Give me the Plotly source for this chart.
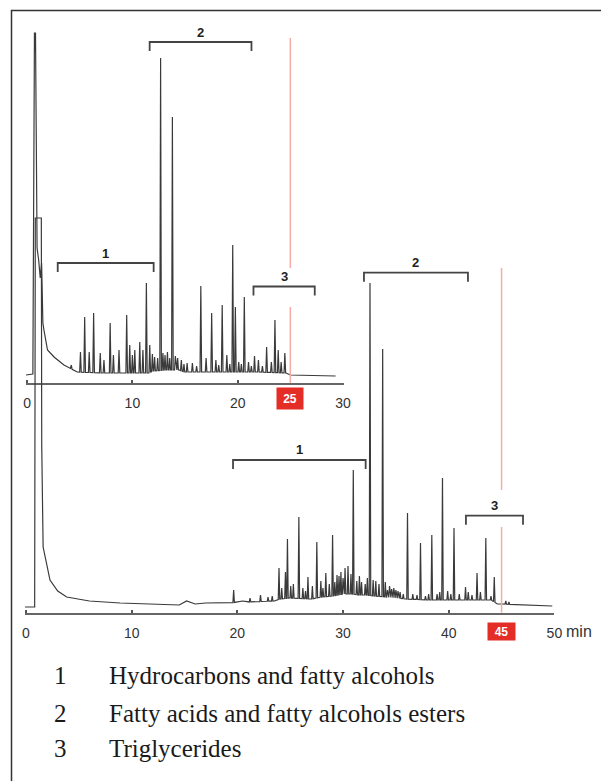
import numpy as np
import plotly.graph_objects as go

# ---------------- data ----------------
# Top chromatogram (30 min run); signal in arbitrary units
top_base_times = [-0.1, 0.55, 0.70, 0.80, 0.95, 1.10, 1.25, 1.38, 1.45, 1.50, 1.60, 1.94, 2.56, 3.5,
                  4.76, 6.95, 11.64, 11.9, 13.05, 14.46, 14.9, 16.3, 22.0, 24.6, 25.0, 29.3]
top_base_levels = [3, 4, 345, 345, 130, 118, 100, 115, 80, 55, 48, 28, 21, 13,
                   6, 5, 5, 7, 8, 8, 6, 6, 6, 5, 3, 2]
top_peak_times = [4.2, 5.07, 5.47, 5.9, 6.32, 6.95, 7.3, 7.89, 8.2, 8.73, 9.46, 9.75, 10.0, 10.23,
                  10.7, 11.0, 11.33, 11.65, 11.9, 12.11, 12.4, 12.68, 12.9, 13.1, 13.33, 13.55,
                  13.8, 14.08, 14.3, 14.65, 14.9, 15.2, 15.7, 16.1, 16.5, 17.0, 17.53, 17.93,
                  18.2, 18.53, 18.97, 19.25, 19.53, 19.78, 20.1, 20.35, 20.63, 21.03, 21.3,
                  21.6, 21.97, 22.35, 22.75, 23.2, 23.54, 23.85, 24.13, 24.48]
top_peak_heights = [13, 26, 61, 26, 65, 25, 18, 55, 23, 28, 63, 33, 23, 28,
                    36, 28, 95, 33, 24, 21, 20, 320, 25, 23, 26, 20,
                    261, 22, 20, 18, 14, 15, 15, 12, 92, 20, 65, 18,
                    13, 73, 23, 14, 133, 71, 16, 14, 81, 16, 12,
                    22, 18, 12, 31, 16, 58, 28, 16, 25]

# Bottom chromatogram (50 min run)
bot_base_times = [-0.1, 0.82, 0.88, 1.45, 1.49, 1.62, 2.27, 3.0, 3.85, 6.0, 8.9, 12.0, 14.5, 15.2,
                  16.0, 17.0, 19.4, 20.5, 21.0, 23.5, 24.0, 25.0, 27.0, 28.0, 29.0, 30.0, 30.8,
                  31.5, 32.2, 33.0, 34.0, 35.0, 36.0, 38.0, 40.0, 42.0, 44.0, 44.6, 45.0, 49.8]
bot_base_levels = [-1, -1, 388, 388, 160, 59, 26, 15, 9, 5, 3, 2, 1, 5,
                   2, 3, 3, 5, 4, 5, 7, 8, 7, 9, 10, 12, 12,
                   11, 11, 10, 9, 8, 7, 6, 6, 6, 6, 2, 2, 0]
bot_peak_times = [19.65, 21.2, 22.19, 22.9, 23.3, 23.94, 24.2, 24.55, 24.74, 25.05, 25.3, 25.82,
                  26.2, 26.45, 26.68, 27.1, 27.52, 27.9, 28.1, 28.37, 28.7, 29.01, 29.22, 29.43,
                  29.62, 29.8, 30.0, 30.19, 30.47, 30.75, 30.97, 31.3, 31.55, 31.75, 32.1,
                  32.3, 32.55, 32.85, 33.1, 33.4, 33.75, 34.0, 34.2, 34.4, 34.6, 34.8, 35.0,
                  35.2, 35.4, 35.7, 36.1, 36.6, 37.0, 37.33, 37.8, 38.1, 38.4, 38.9, 39.15,
                  39.41, 39.9, 40.2, 40.5, 41.0, 41.59, 41.85, 42.2, 42.68, 43.0, 43.51,
                  44.0, 44.31, 45.4, 45.7]
bot_peak_heights = [16, 8, 11, 9, 10, 38, 18, 34, 67, 20, 22, 89,
                    18, 15, 29, 20, 64, 25, 18, 33, 22, 71, 24, 31,
                    30, 34, 28, 38, 40, 32, 136, 25, 30, 24, 22,
                    28, 323, 26, 25, 22, 257, 24, 16, 20, 17, 18, 16,
                    15, 14, 12, 93, 12, 11, 63, 10, 12, 71, 12, 14,
                    128, 15, 12, 78, 12, 19, 14, 11, 33, 14, 68,
                    10, 29, 5, 4]

top_ticks = [0, 10, 20, 30]
bot_ticks = [0, 10, 20, 30, 40, 50]
marker_times = [25, 45]
marker_tops = [340, 338]
marker_gaps = [(71, 110), (79, 116)]

group_labels = ["1", "2", "3"]
top_group_start = [2.91, 11.64, 21.5]
top_group_end = [12.02, 21.31, 27.32]
top_group_level = [115, 336, 91.5]
bot_group_start = [19.59, 31.98, 41.63]
bot_group_end = [32.14, 41.82, 47.03]
bot_group_level = [146, 333.3, 90.3]

legend_numbers = ["1", "2", "3"]
legend_texts = ["Hydrocarbons and fatty alcohols",
                "Fatty acids and fatty alcohols esters",
                "Triglycerides"]

# ---------------- helpers ----------------
W, H = 601, 781


def px_x(p):
    return p / W


def px_y(p):
    return 1 - p / H


def build(bt, bl, pt, ph, w):
    bt = np.asarray(bt, float)
    bl = np.asarray(bl, float)
    keep = np.ones(len(bt), bool)
    for t in pt:
        keep &= ~((bt > t - w) & (bt < t + w))
    pts = [(t, l) for t, l, k in zip(bt, bl, keep) if k]
    for t, h in zip(pt, ph):
        pts += [(t - w, float(np.interp(t - w, bt, bl))), (t, h),
                (t + w, float(np.interp(t + w, bt, bl)))]
    pts.sort(key=lambda p: p[0])
    xs, ys = zip(*pts)
    return list(xs), list(ys)


TRACE = "#3a3a3a"
RED_LINE = "#f5aca6"
RED_BOX = "#e52d27"
BRACKET = "#444444"

fig = go.Figure()

tx, ty = build(top_base_times, top_base_levels, top_peak_times, top_peak_heights, 0.075)
bx, by = build(bot_base_times, bot_base_levels, bot_peak_times, bot_peak_heights, 0.07)

fig.add_trace(go.Scatter(x=tx, y=ty, mode="lines", line=dict(color=TRACE, width=1.2),
                         xaxis="x", yaxis="y", hoverinfo="skip"))
fig.add_trace(go.Scatter(x=bx, y=by, mode="lines", line=dict(color=TRACE, width=1.2),
                         xaxis="x2", yaxis="y2", hoverinfo="skip"))

top_yr = [-5, 353]
bot_yr = [-6.7, 406]

# red end markers
for i, (xa, ya, yr) in enumerate([("x", "y", top_yr), ("x2", "y2", bot_yr)]):
    t = marker_times[i]
    g0, g1 = marker_gaps[i]
    fig.add_trace(go.Scatter(x=[t, t, None, t, t], y=[marker_tops[i], g1, None, g0, yr[0]],
                             mode="lines", line=dict(color=RED_LINE, width=1.5),
                             xaxis=xa, yaxis=ya, hoverinfo="skip"))

annotations = []
# brackets
for xa, ya, st, en, lv in [("x", "y", top_group_start, top_group_end, top_group_level),
                           ("x2", "y2", bot_group_start, bot_group_end, bot_group_level)]:
    for lab, s, e, l in zip(group_labels, st, en, lv):
        fig.add_trace(go.Scatter(x=[s, s, e, e], y=[l - 9, l, l, l - 9], mode="lines",
                                 line=dict(color=BRACKET, width=1.8),
                                 xaxis=xa, yaxis=ya, hoverinfo="skip"))
        annotations.append(dict(x=(s + e) / 2, y=l, xref=xa, yref=ya, text="<b>%s</b>" % lab,
                                showarrow=False, yanchor="middle", yshift=10,
                                font=dict(family="Liberation Sans", size=13, color="#222")))

# red boxes
annotations.append(dict(x=marker_times[0], y=top_yr[0], xref="x", yref="y",
                        text="<b>%d</b>" % marker_times[0], showarrow=False,
                        bgcolor=RED_BOX, width=26, height=21, borderpad=0,
                        yanchor="top", yshift=-4,
                        font=dict(family="Liberation Sans", size=12, color="white")))
annotations.append(dict(x=marker_times[1], y=bot_yr[0], xref="x2", yref="y2",
                        text="<b>%d</b>" % marker_times[1], showarrow=False,
                        bgcolor=RED_BOX, width=27, height=17, borderpad=0,
                        yanchor="top", yshift=-9,
                        font=dict(family="Liberation Sans", size=12, color="white")))
annotations.append(dict(x=bot_ticks[-1], y=bot_yr[0], xref="x2", yref="y2", text="min",
                        showarrow=False, xanchor="left", xshift=10, yanchor="middle",
                        yshift=-18.5, font=dict(family="Liberation Sans", size=16, color="#333")))

# legend text
for i, (n, t) in enumerate(zip(legend_numbers, legend_texts)):
    yc = [675, 713, 748][i]
    annotations.append(dict(x=px_x(61), y=px_y(yc), xref="paper", yref="paper", text=n,
                            showarrow=False, xanchor="center", yanchor="middle",
                            font=dict(family="Liberation Serif", size=25, color="#1a1a1a")))
    annotations.append(dict(x=px_x(107), y=px_y(yc), xref="paper", yref="paper", text=t,
                            showarrow=False, xanchor="left", yanchor="middle",
                            font=dict(family="Liberation Serif", size=25, color="#1a1a1a")))

axis_common = dict(showgrid=False, zeroline=False, showline=True, linecolor="#666",
                   linewidth=2, ticks="inside", ticklen=3, tickwidth=1.5, tickcolor="#555",
                   tickfont=dict(family="Liberation Sans", size=14, color="#333"),
                   ticklabelstandoff=6, tickmode="array", automargin=False)

fig.update_layout(
    template="none", autosize=False,
    width=W, height=H, margin=dict(l=0, r=0, t=0, b=0, pad=0),
    paper_bgcolor="white", plot_bgcolor="rgba(0,0,0,0)", showlegend=False,
    xaxis=dict(domain=[px_x(25.5), px_x(343.5)], range=[-0.15, 30.05], anchor="y",
               tickvals=top_ticks, ticktext=[str(v) for v in top_ticks], **axis_common),
    yaxis=dict(domain=[px_y(383), px_y(25)], range=top_yr, visible=False, anchor="x",
               automargin=False),
    xaxis2=dict(domain=[px_x(24.94), px_x(554.4)], range=[-0.1, 50], anchor="y2",
                tickvals=bot_ticks, ticktext=[str(v) for v in bot_ticks], **axis_common),
    yaxis2=dict(domain=[px_y(612.7), px_y(200)], range=bot_yr, visible=False, anchor="x2",
                automargin=False),
    annotations=annotations,
    shapes=[dict(type="rect", xref="paper", yref="paper", x0=px_x(11.5), x1=1.05,
                 y0=-0.05, y1=px_y(10.5), line=dict(color="#333", width=1.5))],
)

fig.write_html("out.html", config={"displayModeBar": False, "responsive": False},
               post_script="document.body.style.margin='0';"
               "document.body.style.overflow='hidden';"
               "Plotly.relayout('{plot_id}', {width: 601, height: 781});")
